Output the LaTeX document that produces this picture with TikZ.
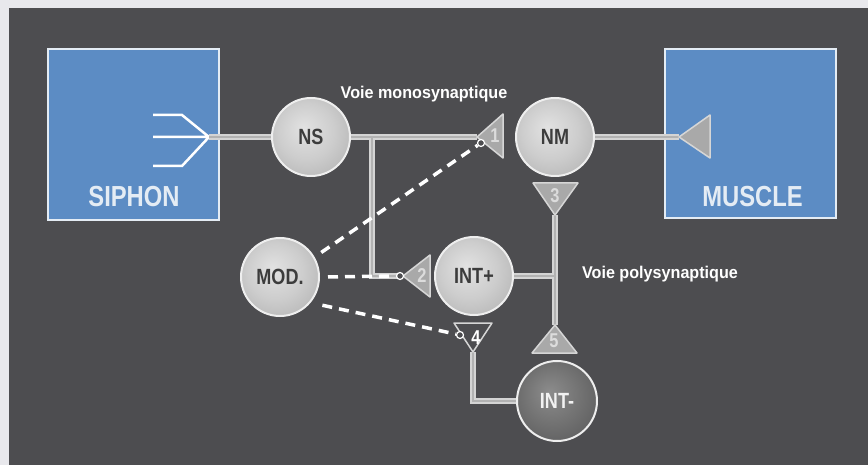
\documentclass[tikz,border=0pt]{standalone}
\usepackage{fontspec}
\setmainfont{Liberation Sans}
\newfontfamily\condfont{Liberation Sans}[FakeStretch=0.82]
\newfontfamily\labfont{Liberation Sans}[FakeStretch=0.95]

\definecolor{marginc}{HTML}{E8E8EC}
\definecolor{bgc}{HTML}{4D4D50}
\definecolor{boxc}{HTML}{5C8CC4}
\definecolor{boxrim}{HTML}{E4ECF4}
\definecolor{wireout}{HTML}{D4D4D4}
\definecolor{wirein}{HTML}{B2B2B2}
\definecolor{synfill}{HTML}{A9A9A9}
\definecolor{synrim}{HTML}{D6D6D6}
\definecolor{numc}{HTML}{DCDCDC}
\definecolor{rimc}{HTML}{EEEEEE}
\definecolor{txtc}{HTML}{3C3C3C}
\definecolor{balla}{HTML}{E2E2E2}
\definecolor{ballb}{HTML}{CDCDCD}
\definecolor{ballc}{HTML}{9A9A9A}
\definecolor{darka}{HTML}{8C8C8C}
\definecolor{darkb}{HTML}{727272}
\definecolor{darkc}{HTML}{444446}

\pgfdeclareradialshading{lightball}{\pgfpoint{-5bp}{6bp}}{color(0bp)=(balla); color(18bp)=(ballb); color(50bp)=(ballc)}
\pgfdeclareradialshading{darkball}{\pgfpoint{-5bp}{6bp}}{color(0bp)=(darka); color(18bp)=(darkb); color(50bp)=(darkc)}

\begin{document}
\begin{tikzpicture}[x=1pt,y=-1pt,
    neuron/.style={circle, minimum size=78, inner sep=0, draw=rimc, line width=2,
        shading=lightball, text=txtc,
        font=\condfont\bfseries\fontsize{22}{22}\selectfont},
    organ/.style={draw=boxrim, line width=2.5, fill=boxc, inner sep=0},
    organlbl/.style={text=boxrim, anchor=base, font=\condfont\bfseries\fontsize{29}{29}\selectfont},
    route/.style={text=white, anchor=base, font=\labfont\bfseries\fontsize{17}{17}\selectfont},
    syn/.style={fill=synfill, draw=synrim, line width=1.5, line join=round},
    synnum/.style={text=numc, inner sep=0, font=\condfont\bfseries\fontsize{20}{20}\selectfont},
    modline/.style={draw=white, line width=3.5, dash pattern=on 10pt off 7pt, shorten <=8pt},
    dot/.style={circle, fill=bgc, draw=white, line width=1.2, minimum size=7, inner sep=0},
    prong/.style={draw=white, line width=2.5}]

    \useasboundingbox (0,0) rectangle (868,465);
    \fill[marginc] (0,0) rectangle (868,465);
    \fill[bgc] (9,8) rectangle (868,465);

    % siphon and muscle
    \node[organ, minimum width=171, minimum height=171] (siphon) at (133.5,134.5) {};
    \node[organlbl] (siphonlbl) at (134,207) {SIPHON};
    \node[organ, minimum width=171, minimum height=169] (muscle) at (750.5,133.5) {};
    \node[organlbl] (musclelbl) at (752.5,207) {MUSCLE};

    \coordinate (fork) at (209,137);
    \draw[prong] (153,115) -- (182,115) -- (fork)
                 (153,137) -- (fork)
                 (153,166) -- (182,166) -- (fork);

    % neurons
    \node[neuron] (ns) at (311,137) {NS};
    \node[neuron] (nm) at (555,137) {NM};
    \node[neuron] (mod) at (280,277) {MOD.};
    \node[neuron] (intp) at (474,276) {INT+};
    \node[neuron, minimum size=80, shading=darkball, text=white!90!gray] (intm) at (557,401) {INT-};

    % synapse tips and wire ends
    \coordinate (t1tip) at (477,137);
    \coordinate (tmtip) at (679,137);
    \coordinate (t2tip) at (403,276);
    \coordinate (t3tip) at (555,215);
    \coordinate (t5tip) at (555,325);
    \coordinate (t4tip) at (473,352);
    \coordinate (j1) at (372,137);
    \coordinate (t2end) at (397,276);
    \coordinate (j3) at (555,276);

    \foreach \col/\w in {wireout/6, wirein/2.2}{
        \draw[\col, line width=\w] (fork) -- (ns.west) (ns.east) -- (t1tip)
            (j1) |- (t2end) (nm.east) -- (tmtip) (intp.east) -- (j3)
            (t3tip) -- (t5tip) (t4tip) |- (intm.west);
    }

    \filldraw[syn] (t1tip) -- (503,114) -- (503,158) -- cycle;
    \filldraw[syn] (tmtip) -- (710,115) -- (710,158) -- cycle;
    \filldraw[syn] (t2tip) -- (430,255) -- (430,297) -- cycle;
    \filldraw[syn] (t3tip) -- (533,183) -- (578,183) -- cycle;
    \filldraw[syn] (t5tip) -- (532,353) -- (577,353) -- cycle;
    \filldraw[syn, fill=bgc] (t4tip) -- (454,323) -- (492,323) -- cycle;

    \node[synnum] (n1) at (495,136) {1};
    \node[synnum] (n2) at (422,276) {2};
    \node[synnum] (n3) at (555,196) {3};
    \node[synnum] (n5) at (554,341) {5};
    \node[synnum, text=white] (n4) at (476,338) {4};

    % modulation
    \node[dot] (d1) at (481,143) {};
    \node[dot] (d2) at (400,276) {};
    \node[dot] (d4) at (460,335) {};
    \draw[modline] (mod.30) -- (d1);
    \draw[modline] (mod.0) -- (d2);
    \draw[modline, shorten <=12pt] (mod.-40) -- (d4);

    \node[route] (mono) at (424,99) {Voie monosynaptique};
    \node[route] (poly) at (660,279) {Voie polysynaptique};

\end{tikzpicture}
\end{document}
